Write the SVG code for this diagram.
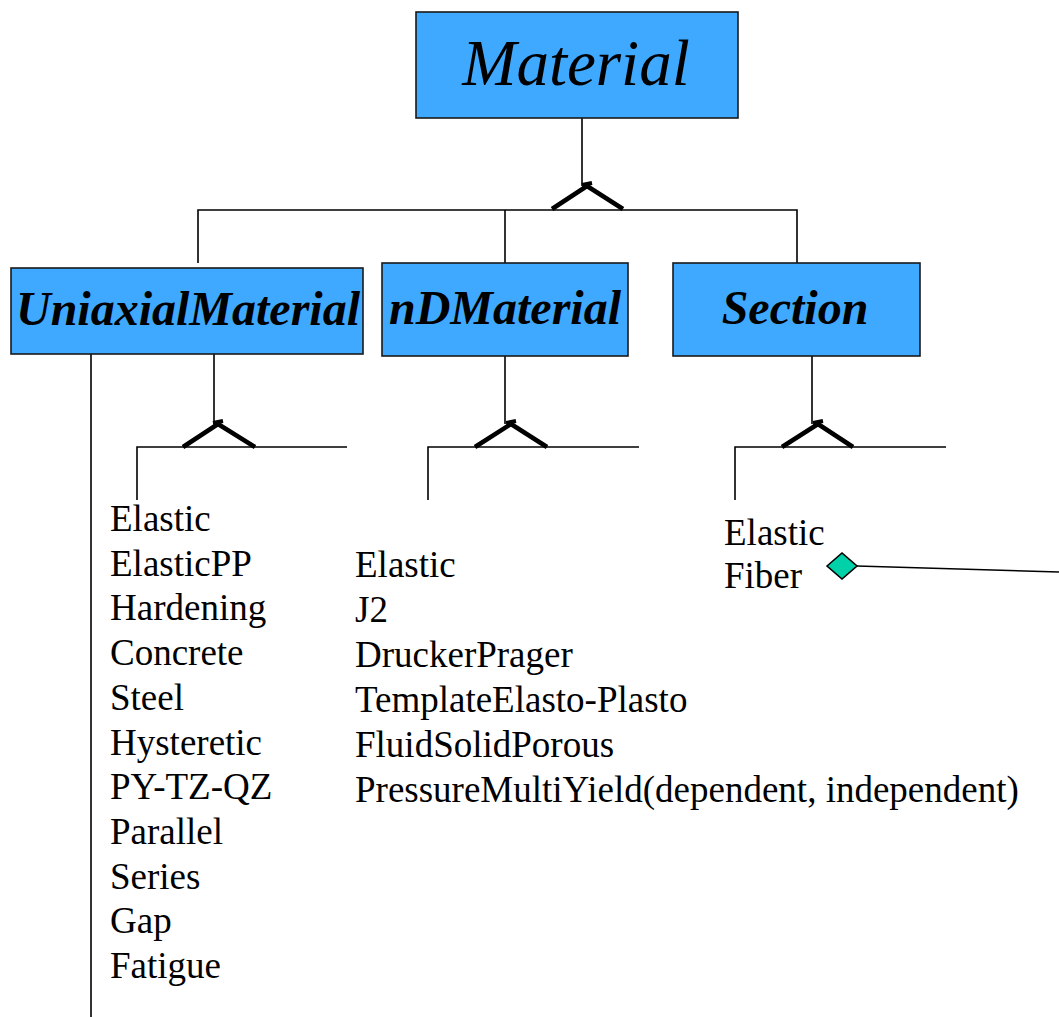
<svg xmlns="http://www.w3.org/2000/svg" width="1059" height="1017" viewBox="0 0 1059 1017" font-family="'Liberation Serif', 'Times New Roman', Times, serif">
  <style>
    .box { fill: #3fa9ff; stroke: #1a1a1a; stroke-width: 1.6; }
    .title { font-style: italic; fill: #000; text-anchor: middle; }
    .bold { font-weight: bold; font-size: 48px; }
    .item { font-size: 37px; fill: #000; }
    .line { stroke: #000; stroke-width: 1.6; fill: none; }
    .gen { stroke: #000; stroke-width: 4.5; fill: none; stroke-linejoin: miter; }
    .tick { stroke: #000; stroke-width: 4; }
  </style>
  <rect width="1059" height="1017" fill="#fff"/>

  <!-- connectors: inheritance trees and the Fiber aggregation -->
  <g id="connectors">
    <!-- Material -> subclasses -->
    <line class="line" x1="582" y1="118" x2="582" y2="186"/>
    <polyline class="gen" points="552,209 587,186 623,209"/>
    <line class="tick" x1="582" y1="185" x2="592" y2="183"/>
    <polyline class="line" points="198,263 198,210 797,210 797,263"/>
    <line class="line" x1="505" y1="210" x2="505" y2="263"/>

    <!-- UniaxialMaterial -> types -->
    <line class="line" x1="91" y1="354" x2="91" y2="1017"/>
    <line class="line" x1="214" y1="354" x2="214" y2="424"/>
    <polyline class="gen" points="183,447 218,424 255,447"/>
    <line class="tick" x1="213" y1="423" x2="223" y2="421"/>
    <polyline class="line" points="137,500 137,447 347,447"/>

    <!-- nDMaterial -> types -->
    <line class="line" x1="505" y1="356" x2="505" y2="424"/>
    <polyline class="gen" points="475,447 511,424 547,447"/>
    <line class="tick" x1="506" y1="423" x2="516" y2="421"/>
    <polyline class="line" points="428,500 428,447 639,447"/>

    <!-- Section -> types -->
    <line class="line" x1="812" y1="356" x2="812" y2="424"/>
    <polyline class="gen" points="782,447 818,424 853,447"/>
    <line class="tick" x1="813" y1="423" x2="823" y2="421"/>
    <polyline class="line" points="735,500 735,447 946,447"/>

    <!-- Fiber aggregation -->
    <line class="line" x1="857" y1="566" x2="1059" y2="572"/>
    <polygon points="827,566 842,553 857,566 842,579" fill="#00d1a8" stroke="#000" stroke-width="1.6"/>
  </g>

  <g id="material">
    <rect class="box" x="416" y="12" width="322" height="106"/>
    <text class="title" x="576" y="85" font-size="65">Material</text>
  </g>

  <g id="uniaxial-material">
    <rect class="box" x="11" y="268" width="352" height="86"/>
    <text class="title bold" x="188" y="325">UniaxialMaterial</text>
  </g>

  <g id="nd-material">
    <rect class="box" x="382" y="263" width="246" height="93"/>
    <text class="title bold" x="505" y="324">nDMaterial</text>
  </g>

  <g id="section">
    <rect class="box" x="673" y="263" width="247" height="93"/>
    <text class="title bold" x="795" y="324">Section</text>
  </g>

  <g id="uniaxial-types">
    <text class="item" x="110" y="531">Elastic</text>
    <text class="item" x="110" y="575.7">ElasticPP</text>
    <text class="item" x="110" y="620.4">Hardening</text>
    <text class="item" x="110" y="665.1">Concrete</text>
    <text class="item" x="110" y="709.8">Steel</text>
    <text class="item" x="110" y="754.5">Hysteretic</text>
    <text class="item" x="110" y="799.2">PY-TZ-QZ</text>
    <text class="item" x="110" y="843.9">Parallel</text>
    <text class="item" x="110" y="888.6">Series</text>
    <text class="item" x="110" y="933.3">Gap</text>
    <text class="item" x="110" y="978">Fatigue</text>
  </g>

  <g id="nd-types">
    <text class="item" x="355" y="577">Elastic</text>
    <text class="item" x="355" y="622">J2</text>
    <text class="item" x="355" y="667">DruckerPrager</text>
    <text class="item" x="355" y="712">TemplateElasto-Plasto</text>
    <text class="item" x="355" y="757">FluidSolidPorous</text>
    <text class="item" x="355" y="802">PressureMultiYield(dependent, independent)</text>
  </g>

  <g id="section-types">
    <text class="item" x="724" y="545">Elastic</text>
    <text class="item" x="724" y="588">Fiber</text>
  </g>
</svg>
